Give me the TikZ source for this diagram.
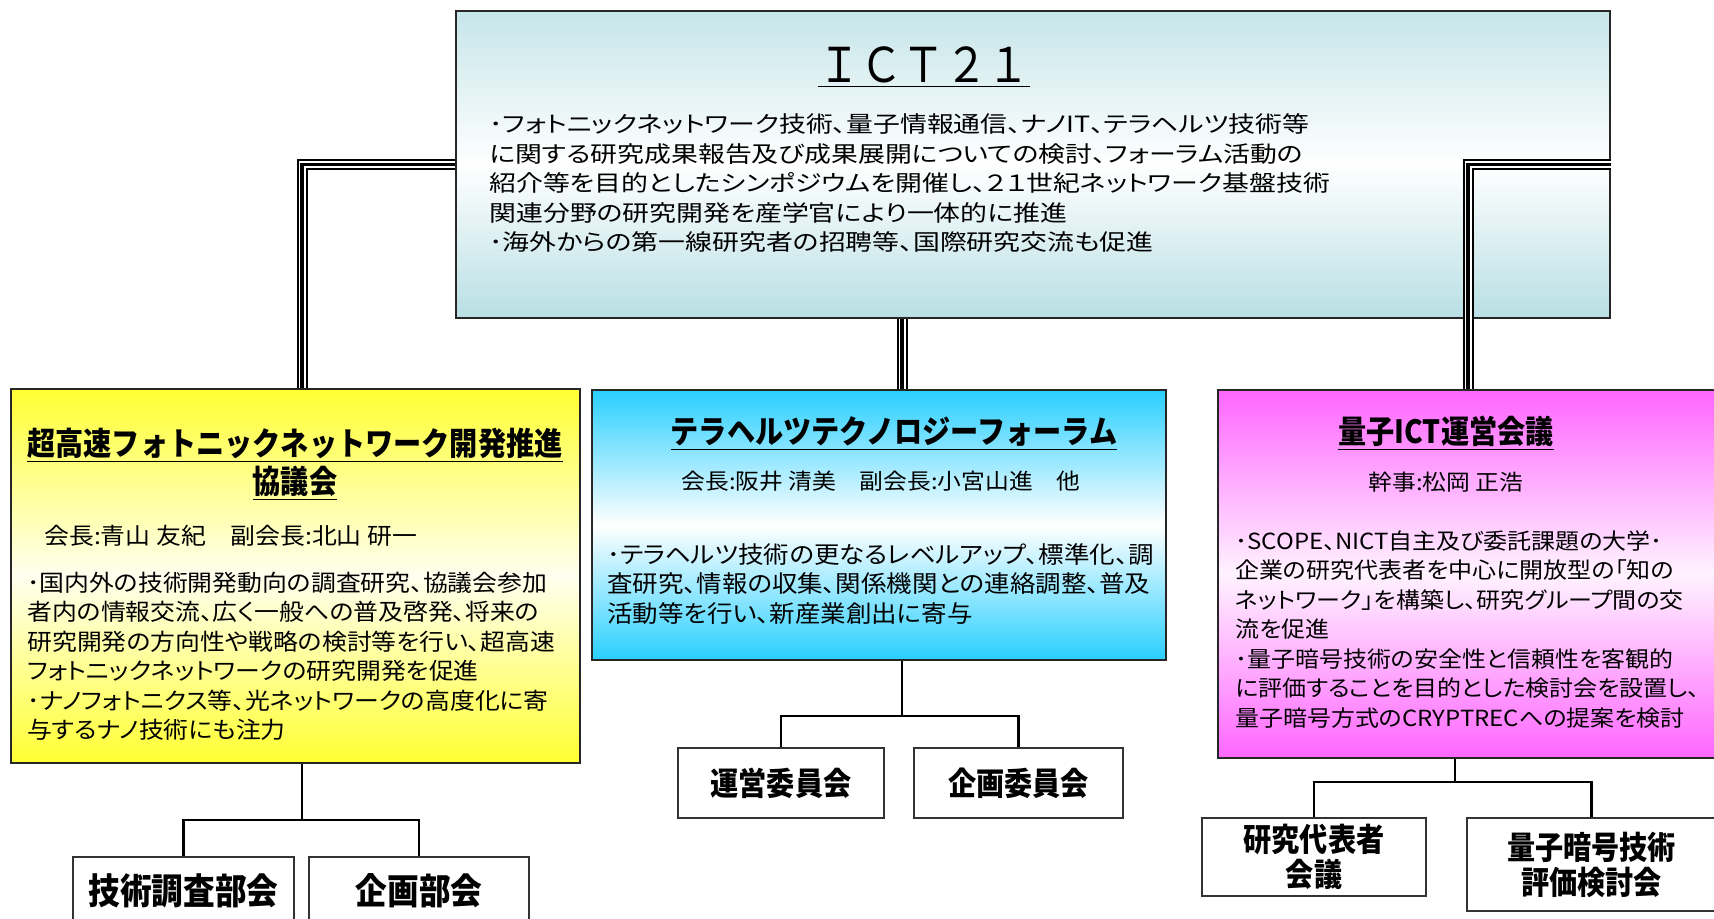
\documentclass[tikz,border=0pt]{standalone}
\usepackage{fontspec}
\setmainfont{Noto Sans CJK JP}[FakeStretch=1.08, RawFeature=+palt]
\newfontfamily\headfont{Noto Sans CJK JP}[FakeStretch=0.88]
\newfontfamily\widefont{Noto Sans CJK JP}[FakeStretch=1.2, RawFeature=+palt]
\usepackage{xcolor}
\usetikzlibrary{positioning,calc}
\definecolor{ictcyan}{RGB}{184,223,228}
\definecolor{phyellow}{RGB}{255,255,51}
\definecolor{thzblue}{RGB}{41,207,255}
\definecolor{qpink}{RGB}{255,102,255}

\begin{document}
\begin{tikzpicture}[
  x=0.5pt, y=-0.5pt,
  orgbox/.style={rectangle, draw=black!85, line width=1pt, inner sep=0pt},
  subbox/.style={rectangle, draw=black!80, line width=0.8pt, fill=white, align=center, inner sep=0pt, font=\headfont\bfseries\fontsize{16}{17.5}\selectfont},
  titletext/.style={inner sep=0pt, align=center, font=\headfont\bfseries\fontsize{16}{19}\selectfont},
  bodytext/.style={inner sep=0pt, align=left, anchor=north west, font=\fontsize{11.5}{14.75}\selectfont},
  headtext/.style={inner sep=0pt, font=\fontsize{11}{14.75}\selectfont},
  link/.style={line width=1.4pt},
  tripleline/.style={line width=5.5pt, postaction={draw=white, line width=3.5pt}, postaction={draw=black, line width=1.8pt}}
]
\useasboundingbox (0,0) rectangle (1714,918);

% Top: ICT21
\node[orgbox, minimum width=577pt, minimum height=153.5pt, top color=ictcyan!80, bottom color=ictcyan, middle color=white] (ict) at (1033,164.5) {};
\node[inner sep=0pt, font=\headfont\fontsize{24}{26}\selectfont] (icttitle) at (924,67) {\underline{ＩＣＴ２１}};
\node[bodytext, font=\widefont\fontsize{11.2}{14.75}\selectfont] (icttext) at (489,113.5) {･フォトニックネットワーク技術、量子情報通信、ナノIT、テラヘルツ技術等\\に関する研究成果報告及び成果展開についての検討、フォーラム活動の\\紹介等を目的としたシンポジウムを開催し、２１世紀ネットワーク基盤技術\\関連分野の研究開発を産学官により一体的に推進\\･海外からの第一線研究者の招聘等、国際研究交流も促進};

% Three councils
\node[orgbox, minimum width=284.5pt, minimum height=187pt, top color=phyellow, bottom color=phyellow, middle color=phyellow!8] (phot) at (295.5,576) {};
\node[titletext] (phottitle) at (295,464) {\underline{超高速フォトニックネットワーク開発推進}\\\underline{協議会}};
\node[headtext, anchor=west, font=\fontsize{11.5}{14.75}\selectfont] (phothead) at (44,536) {会長:青山 友紀　副会長:北山 研一};
\node[bodytext] (phottext) at (27,571.5) {･国内外の技術開発動向の調査研究、協議会参加\\者内の情報交流、広く一般への普及啓発、将来の\\研究開発の方向性や戦略の検討等を行い、超高速\\フォトニックネットワークの研究開発を促進\\･ナノフォトニクス等、光ネットワークの高度化に寄\\与するナノ技術にも注力};

\node[orgbox, minimum width=287pt, minimum height=135pt, top color=thzblue, bottom color=thzblue, middle color=white] (thz) at (879,525) {};
\node[titletext] (thztitle) at (894,433.5) {\underline{テラヘルツテクノロジーフォーラム}};
\node[headtext] (thzhead) at (881,481) {会長:阪井 清美　副会長:小宮山進　他};
\node[bodytext, font=\fontsize{11.8}{14.75}\selectfont] (thztext) at (607,543) {･テラヘルツ技術の更なるレベルアップ、標準化、調\\査研究、情報の収集、関係機関との連絡調整、普及\\活動等を行い、新産業創出に寄与};

\node[orgbox, minimum width=250pt, minimum height=184pt, top color=qpink, bottom color=qpink, middle color=qpink!8] (qict) at (1468,574) {};
\node[titletext] (qicttitle) at (1446,433.5) {\underline{量子ICT運営会議}};
\node[headtext] (qicthead) at (1446,482) {幹事:松岡 正浩};
\node[bodytext, font=\fontsize{11.1}{14.75}\selectfont] (qicttext) at (1235,530) {･SCOPE、NICT自主及び委託課題の大学･\\企業の研究代表者を中心に開放型の「知の\\ネットワーク」を構築し、研究グループ間の交\\流を促進\\･量子暗号技術の安全性と信頼性を客観的\\に評価することを目的とした検討会を設置し、\\量子暗号方式のCRYPTRECへの提案を検討};

% Sub committees
\node[subbox, font=\headfont\bfseries\fontsize{18}{20}\selectfont, minimum width=110.5pt, minimum height=34pt] (tech) at (183.5,891) {技術調査部会};
\node[subbox, font=\headfont\bfseries\fontsize{18}{20}\selectfont, minimum width=110pt, minimum height=34pt] (photplan) at (419,891) {企画部会};
\node[subbox, minimum width=103pt, minimum height=35pt] (steer) at (781,783) {運営委員会};
\node[subbox, minimum width=104.5pt, minimum height=35pt] (thzplan) at (1018.5,783) {企画委員会};
\node[subbox, minimum width=112pt, minimum height=39pt] (lead) at (1314,857) {研究代表者\\会議};
\node[subbox, minimum width=124.5pt, minimum height=46.5pt] (qeval) at (1591.5,864.5) {量子暗号技術\\評価検討会};

% Triple lines from ICT21
\coordinate (photfork) at (302,820);
\coordinate (thzfork) at (902,716);
\coordinate (qictfork) at (1455,782);
\draw[tripleline] (ict.west) -| (phot.north -| photfork);
\draw[tripleline] (ict.south -| thzfork) -- (thz.north -| thzfork);
\draw[tripleline] (ict.east) -| (qict.north);

% Links to sub committees
\draw[link] (phot.south -| photfork) -- (photfork);
\draw[link] (tech.north) |- (photfork) -| (photplan.north);
\draw[link] (thz.south -| thzfork) -- (thzfork);
\draw[link] (steer.north) |- (thzfork) -| (thzplan.north);
\draw[link] (qict.south -| qictfork) -- (qictfork);
\draw[link] (lead.north) |- (qictfork) -| (qeval.north);

\end{tikzpicture}
\end{document}
